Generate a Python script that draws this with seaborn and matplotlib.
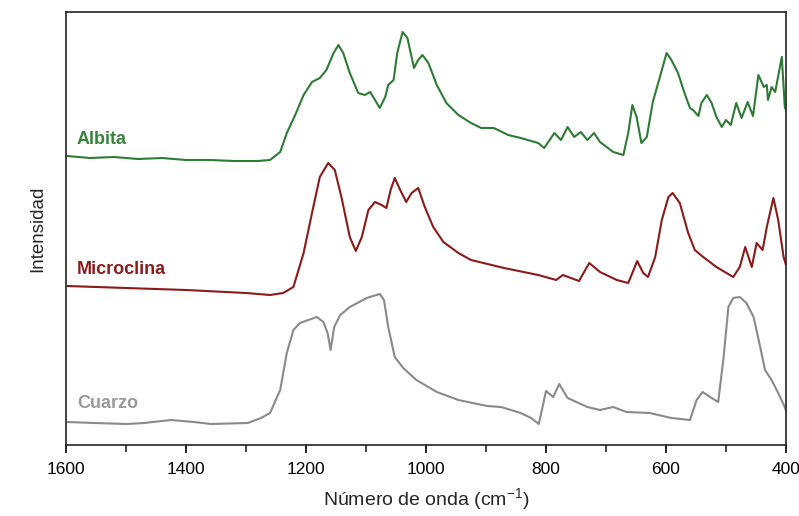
import matplotlib
matplotlib.use("Agg")
import matplotlib.pyplot as plt
import seaborn as sns
import pandas as pd
from matplotlib.ticker import MultipleLocator

# ---- data (wavenumber in cm-1, intensity in arbitrary units, curves offset) ----
albita_wn = [1598, 1560, 1520, 1480, 1440, 1400, 1360, 1320, 1280, 1260, 1243, 1232, 1218, 1204, 1190,
             1177, 1166, 1154, 1146, 1138, 1127, 1113, 1102, 1093, 1085, 1077, 1068, 1063, 1054, 1048,
             1039, 1031, 1020, 1013, 1006, 996, 982, 966, 946, 925, 908, 887, 863, 842, 813, 803, 786,
             775, 764, 753, 742, 731, 720, 710, 699, 688, 671, 663, 656, 649, 641, 632, 622, 613, 599,
             591, 580, 568, 560, 555, 546, 541, 532, 524, 516, 507, 500, 492, 483, 474, 464, 455, 446,
             437, 432, 430, 424, 418, 407, 402, 400]
albita_y = [289, 287, 288, 286, 287, 285, 285, 284, 284, 285, 293, 312, 330, 350, 363,
            367, 375, 392, 400, 392, 372, 352, 350, 353, 345, 337, 348, 360, 365, 392,
            413, 407, 377, 385, 390, 382, 360, 342, 330, 322, 317, 317, 310, 307, 302, 297, 312,
            305, 318, 308, 313, 305, 312, 303, 298, 293, 290, 312, 340, 328, 302, 308, 343, 362, 392,
            385, 372, 350, 337, 335, 329, 342, 350, 342, 328, 318, 325, 320, 342, 327, 343, 329, 370,
            358, 360, 345, 358, 353, 388, 338, 335]

micro_wn = [1598, 1500, 1400, 1300, 1260, 1238, 1221, 1204, 1190, 1177, 1163, 1152, 1141, 1127, 1117,
            1107, 1096, 1085, 1074, 1066, 1059, 1052, 1043, 1033, 1024, 1013, 1002, 988, 971, 946,
            925, 870, 813, 783, 772, 745, 728, 710, 682, 663, 654, 648, 638, 630, 618, 607, 596, 589,
            577, 563, 552, 538, 516, 488, 477, 468, 457, 449, 439, 432, 421, 413, 404, 400]
micro_y = [159, 157, 155, 152, 150, 152, 158, 192, 232, 268, 282, 275, 248, 208, 194,
           208, 235, 243, 240, 237, 255, 267, 255, 243, 252, 257, 238, 218, 203, 192,
           185, 177, 170, 165, 170, 164, 182, 173, 165, 162, 175, 184, 172, 168, 188, 225, 248, 252,
           242, 212, 195, 188, 178, 168, 178, 198, 178, 202, 195, 218, 247, 225, 188, 180]

cuarzo_wn = [1598, 1553, 1498, 1470, 1425, 1387, 1358, 1297, 1275, 1260, 1243, 1232, 1221, 1210, 1182,
             1171, 1164, 1159, 1153, 1143, 1127, 1099, 1077, 1070, 1063, 1052, 1038, 1016, 982, 946,
             898, 875, 842, 825, 812, 800, 788, 778, 764, 731, 710, 688, 666, 627, 591, 560, 549, 539,
             524, 513, 504, 496, 488, 477, 466, 454, 443, 435, 424, 413, 402, 400]
cuarzo_y = [23, 22, 21, 22, 25, 23, 21, 22, 27, 32, 55, 92, 115, 122, 128,
            123, 112, 95, 118, 130, 138, 147, 151, 145, 118, 88, 77, 65, 53, 45,
            39, 38, 32, 27, 21, 54, 48, 61, 47, 38, 35, 38, 33, 32, 27, 25, 45, 53,
            47, 43, 88, 138, 147, 148, 142, 128, 98, 75, 65, 52, 38, 34]

names = ["Albita", "Microclina", "Cuarzo"]
colors = {"Albita": "#2e7b35", "Microclina": "#8b1a1a", "Cuarzo": "#8a8a8a"}
label_colors = {"Albita": "#37843c", "Microclina": "#8b1c1c", "Cuarzo": "#9a9a9a"}
label_pos = {"Albita": (1582, 305), "Microclina": (1582, 175), "Cuarzo": (1582, 41)}

frames = []
for n, wn, y in [("Albita", albita_wn, albita_y), ("Microclina", micro_wn, micro_y),
                 ("Cuarzo", cuarzo_wn, cuarzo_y)]:
    frames.append(pd.DataFrame({"wn": wn, "I": y, "mineral": n}))
df = pd.concat(frames, ignore_index=True)

sns.set_style("white")
plt.rcParams["font.family"] = ["Liberation Sans", "DejaVu Sans"]

fig = plt.figure(figsize=(7.99, 5.16), dpi=100)
ax = fig.add_axes([66 / 799, 1 - 445 / 516, 720 / 799, 433 / 516])

sns.lineplot(data=df, x="wn", y="I", hue="mineral", palette=colors, hue_order=names,
             linewidth=1.5, legend=False, ax=ax, estimator=None, sort=False)
for line in ax.get_lines():
    line.set_solid_joinstyle("round")

ax.set_xlim(1600, 400)
ax.set_ylim(0, 433)
ax.set_yticks([])
ax.xaxis.set_major_locator(MultipleLocator(200))
ax.xaxis.set_minor_locator(MultipleLocator(100))
ax.tick_params(axis="x", which="major", direction="out", length=6, width=1.2,
               labelsize=12.5, pad=6, bottom=True, colors="black")
ax.tick_params(axis="x", which="minor", direction="out", length=5, width=1.2, bottom=True)
for s in ax.spines.values():
    s.set_visible(True)
    s.set_color("#222222")
    s.set_linewidth(1.2)

for n in names:
    x, y = label_pos[n]
    ax.text(x, y, n, color=label_colors[n], fontsize=13, fontweight="bold",
            ha="left", va="center")

ax.set_xlabel("Número de onda (cm$^{\\mathregular{-1}}$)", fontsize=14, labelpad=7)
ax.set_ylabel("Intensidad", fontsize=13.5, labelpad=14)

fig.savefig("out.png", dpi=100)
